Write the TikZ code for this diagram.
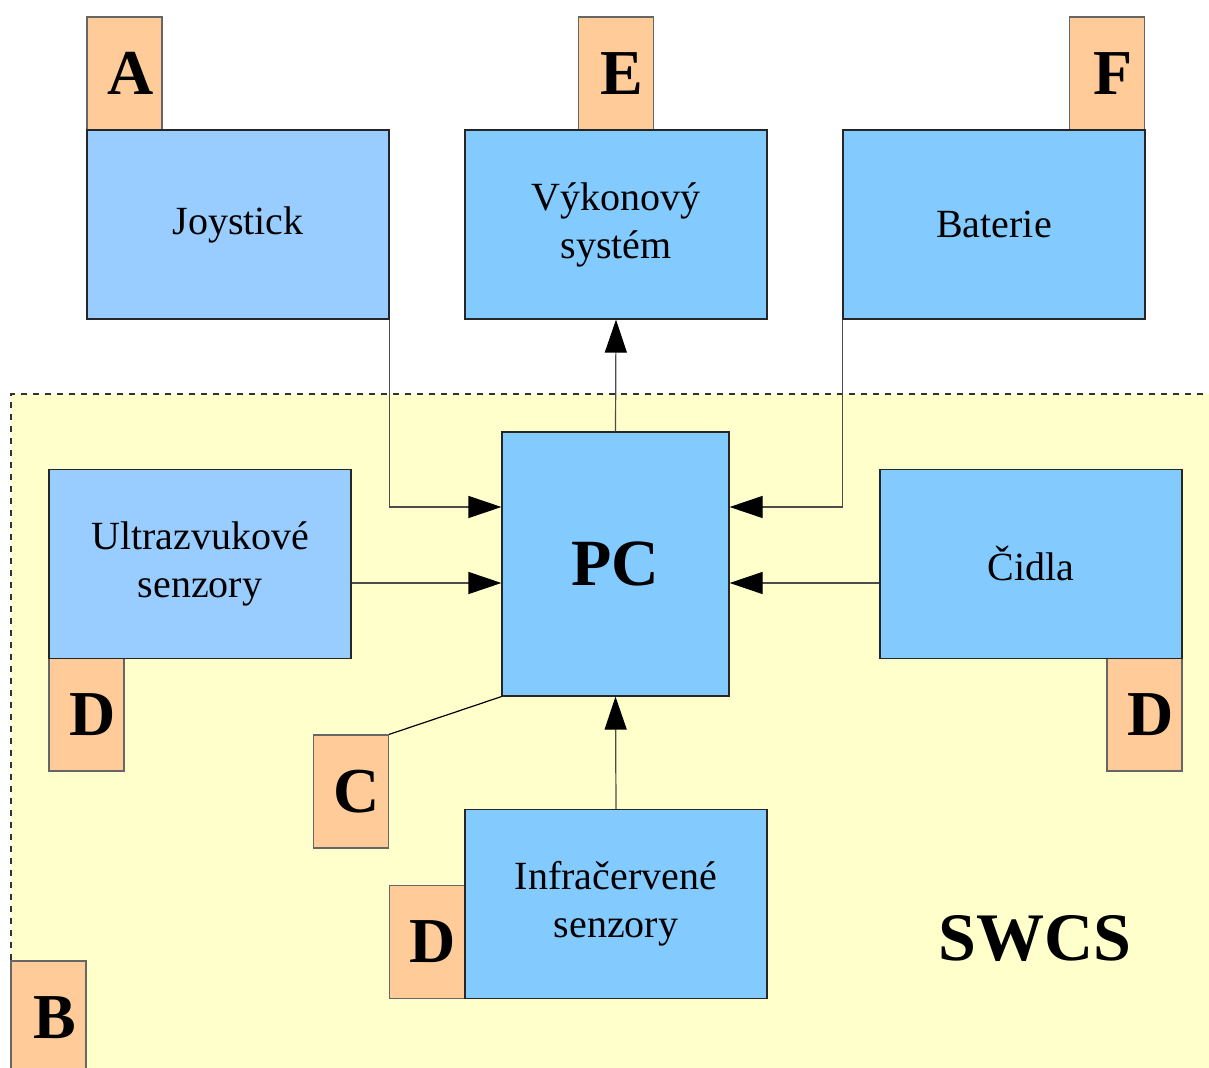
\documentclass[tikz,border=0pt]{standalone}
\usepackage{fontspec}
\setmainfont{Liberation Serif}
\usetikzlibrary{arrows.meta}
\definecolor{boxblue}{HTML}{83CAFF}
\definecolor{lightblue}{HTML}{99CCFF}
\definecolor{tagorange}{HTML}{FFCC99}
\definecolor{areayellow}{HTML}{FFFFCC}

\begin{document}
\begin{tikzpicture}[x=0.5pt,y=-0.5pt,
    unit/.style={draw=black!85,fill=boxblue,line width=0.6pt,minimum width=151pt,minimum height=94.5pt,
        align=center,inner sep=0pt,font=\fontsize{20}{24}\selectfont},
    tag/.style={draw=black!60,fill=tagorange,line width=0.6pt,minimum width=37.5pt,minimum height=56.5pt,
        inner sep=0pt,font=\fontsize{32}{36}\selectfont\bfseries,execute at begin node=\hspace*{6pt}},
    link/.style={draw=black!70,line width=0.6pt,-{Triangle[length=16.5pt,width=11pt,black]}}]
    \useasboundingbox (0,0) rectangle (1209,1068);

    % SWCS area
    \fill[areayellow] (11,394) rectangle (1209,1068);
    \draw[dashed,black!80,line width=0.6pt] (11,1068) -- (11,394) -- (1209,394);
    \node[font=\fontsize{34}{38}\selectfont\bfseries] (swcs) at (1035,938) {SWCS};

    % Tags
    \node[tag] (tagA) at (124.5,73.5) {A};
    \node[tag] (tagE) at (616,73.5) {E};
    \node[tag] (tagF) at (1107,73.5) {F};
    \node[tag] (tagD1) at (86.5,714.5) {D};
    \node[tag] (tagD2) at (1144.5,714.5) {D};
    \node[tag] (tagC) at (351,791.5) {C};
    \node[tag] (tagD3) at (427,942) {D};
    \node[tag] (tagB) at (48.5,1017.5) {B};

    % Outer blocks
    \node[unit,fill=lightblue] (joy) at (238,224.5) {Joystick};
    \node[unit] (vyk) at (616,224.5) {Výkonový\\systém};
    \node[unit] (bat) at (994,224.5) {Baterie};

    % Inner blocks
    \node[unit,minimum width=113.5pt,minimum height=132pt,font=\fontsize{33}{36}\selectfont\bfseries] (pc) at (615.5,564) {PC};
    \node[unit,fill=lightblue] (ultra) at (200,564) {Ultrazvukové\\senzory};
    \node[unit] (cidla) at (1031,564) {Čidla};
    \node[unit] (infra) at (616,904) {Infračervené\\senzory};

    % Connections
    \draw[link] (joy.south east) |- ([yshift=28.5pt]pc.west);
    \draw[link] (bat.south west) |- ([yshift=28.5pt]pc.east);
    \draw[link] ([yshift=-9.5pt]ultra.east) -- ([yshift=-9.5pt]pc.west);
    \draw[link] ([yshift=-9.5pt]cidla.west) -- ([yshift=-9.5pt]pc.east);
    \draw[link] (pc.north) -- (vyk.south);
    \draw[link] (infra.north) -- (pc.south);
    \draw[line width=0.6pt] (pc.south west) -- (tagC.north east);
\end{tikzpicture}
\end{document}
